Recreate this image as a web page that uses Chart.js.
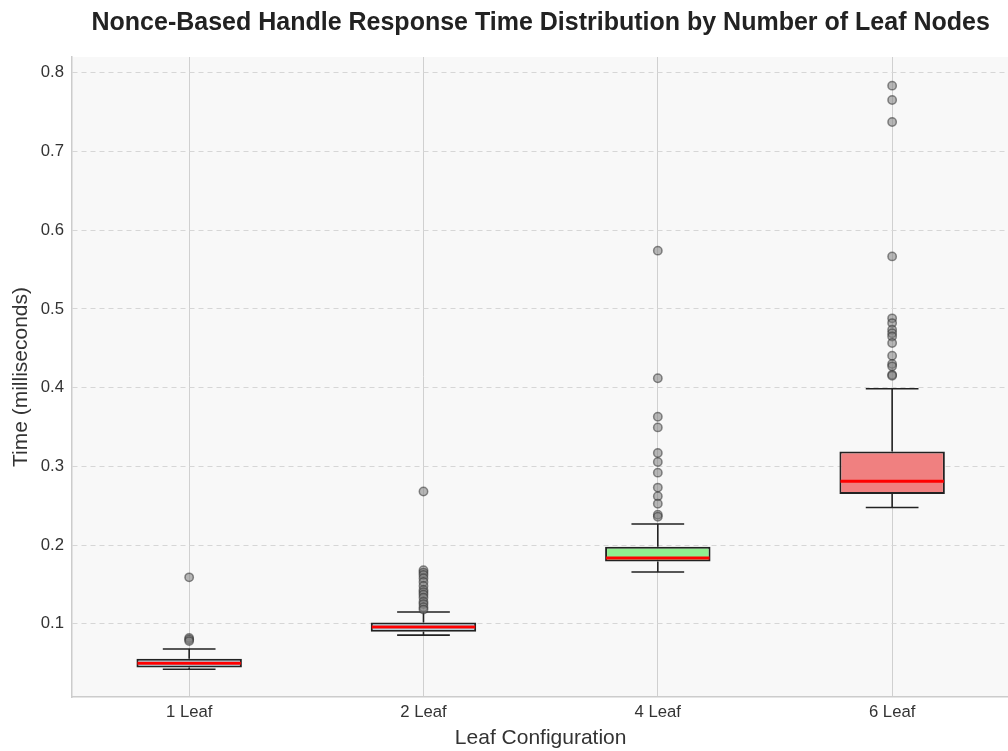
<!DOCTYPE html>
<html>
<head>
<meta charset="utf-8">
<script src="https://cdn.jsdelivr.net/npm/chart.js@4.4.1/dist/chart.umd.min.js"></script>
<style>
  html, body { margin: 0; padding: 0; background: #ffffff; overflow: hidden; }
  #wrap { width: 1015px; height: 751px; position: relative; }
</style>
</head>
<body>
<div id="wrap"><canvas id="chart"></canvas></div>
<script>
// Data
const categories = ['1 Leaf', '2 Leaf', '4 Leaf', '6 Leaf'];
const q1Values = [0.0445, 0.090, 0.179, 0.265];
const q3Values = [0.0555, 0.1017, 0.198, 0.319];
const medianValues = [0.050, 0.0958, 0.1835, 0.281];
const whiskerLow = [0.0423, 0.0856, 0.1657, 0.2478];
const whiskerHigh = [0.0679, 0.115, 0.2267, 0.3986];
const outliers1 = [0.159, 0.082, 0.080, 0.078];
const outliers2 = [0.268, 0.168, 0.165, 0.162, 0.158, 0.153, 0.148, 0.143, 0.140, 0.137, 0.133, 0.128, 0.125, 0.121, 0.118];
const outliers4 = [0.574, 0.412, 0.363, 0.3495, 0.317, 0.3055, 0.292, 0.273, 0.262, 0.2525, 0.2385, 0.236];
const outliers6 = [0.7836, 0.7654, 0.7375, 0.5667, 0.488, 0.482, 0.4736, 0.469, 0.465, 0.4567, 0.4405, 0.430, 0.427, 0.4164, 0.415];
const yTicks = [0.1, 0.2, 0.3, 0.4, 0.5, 0.6, 0.7, 0.8];

const TITLE = 'Nonce-Based Handle Response Time Distribution by Number of Leaf Nodes';
const boxColors = ['#add8e6', '#add8e6', '#90ee90', '#f08080'];
const FONT = "'Liberation Sans', Arial, sans-serif";

// outlier points built from the lists above
const outlierPoints = [];
[outliers1, outliers2, outliers4, outliers6].forEach((list, i) => {
    list.forEach(v => outlierPoints.push({ x: categories[i], y: v }));
});

// Plot background, title over the plot area, whiskers and medians
const boxPlugin = {
    id: 'boxWhiskers',
    beforeDraw(chart) {
        const a = chart.chartArea;
        const ctx = chart.ctx;
        ctx.save();
        ctx.fillStyle = '#f8f8f8';
        ctx.fillRect(a.left, a.top, a.right - a.left, a.bottom - a.top);
        ctx.restore();
    },
    beforeDatasetsDraw(chart) {
        const ctx = chart.ctx;
        const x = chart.scales.x, y = chart.scales.y;
        const bars = chart.getDatasetMeta(0).data;
        ctx.save();
        ctx.strokeStyle = '#222';
        ctx.lineWidth = 1.6;
        categories.forEach((c, i) => {
            const cx = x.getPixelForValue(i);
            const half = bars[i].width / 4;
            ctx.beginPath();
            ctx.moveTo(cx, y.getPixelForValue(q3Values[i]));
            ctx.lineTo(cx, y.getPixelForValue(whiskerHigh[i]));
            ctx.moveTo(cx, y.getPixelForValue(q1Values[i]));
            ctx.lineTo(cx, y.getPixelForValue(whiskerLow[i]));
            ctx.moveTo(cx - half, y.getPixelForValue(whiskerHigh[i]));
            ctx.lineTo(cx + half, y.getPixelForValue(whiskerHigh[i]));
            ctx.moveTo(cx - half, y.getPixelForValue(whiskerLow[i]));
            ctx.lineTo(cx + half, y.getPixelForValue(whiskerLow[i]));
            ctx.stroke();
        });
        ctx.restore();
    },
    afterDatasetsDraw(chart) {
        const ctx = chart.ctx;
        const x = chart.scales.x, y = chart.scales.y;
        const bars = chart.getDatasetMeta(0).data;
        ctx.save();
        ctx.strokeStyle = '#ff0000';
        ctx.lineWidth = 3;
        categories.forEach((c, i) => {
            const cx = x.getPixelForValue(i);
            const half = bars[i].width / 2 - 1;
            const my = y.getPixelForValue(medianValues[i]);
            ctx.beginPath();
            ctx.moveTo(cx - half, my);
            ctx.lineTo(cx + half, my);
            ctx.stroke();
        });
        ctx.restore();
    },
    afterDraw(chart) {
        const a = chart.chartArea;
        const ctx = chart.ctx;
        ctx.save();
        ctx.fillStyle = '#222';
        ctx.font = 'bold 25px ' + FONT;
        ctx.textAlign = 'center';
        ctx.textBaseline = 'middle';
        ctx.fillText(TITLE, (a.left + a.right) / 2, 23);
        ctx.restore();
    }
};

new Chart(document.getElementById('chart'), {
    type: 'bar',
    data: {
        labels: categories,
        datasets: [{
            label: 'IQR',
            data: categories.map((c, i) => [q1Values[i], q3Values[i]]),
            backgroundColor: boxColors,
            borderColor: '#222',
            borderWidth: 2,
            borderSkipped: false,
            barPercentage: 0.45,
            categoryPercentage: 1.0
        }, {
            type: 'scatter',
            label: 'Outliers',
            data: outlierPoints,
            xAxisID: 'x',
            pointRadius: 4.2,
            pointBackgroundColor: 'rgba(128,128,128,0.55)',
            pointBorderColor: 'rgba(50,50,50,0.55)',
            pointBorderWidth: 1.5
        }]
    },
    options: {
        responsive: true,
        maintainAspectRatio: false,
        animation: false,
        layout: { padding: { left: 0, right: 0, top: 57, bottom: 0 } },
        plugins: {
            legend: { display: false },
            tooltip: { enabled: false },
            title: { display: false }
        },
        scales: {
            x: {
                type: 'category',
                offset: true,
                grid: { display: true, offset: false, color: '#d0d0d0', lineWidth: 1, drawTicks: false },
                border: { display: true, color: '#cccccc', width: 1.5 },
                ticks: { color: '#333', font: { family: FONT, size: 16.7 }, padding: 5 },
                title: {
                    display: true,
                    text: 'Leaf Configuration',
                    color: '#333',
                    font: { family: FONT, size: 21 },
                    padding: { top: 0, bottom: 0 }
                },
                afterFit(scale) { scale.height = 54; }
            },
            y: {
                min: 0.007,
                max: 0.82,
                grid: { color: '#d6d6d6', lineWidth: 1, drawTicks: false, borderDash: [5, 4] },
                border: { display: true, color: '#cccccc', width: 1.5, dash: [5, 4] },
                afterBuildTicks(scale) { scale.ticks = yTicks.map(v => ({ value: v })); },
                ticks: {
                    color: '#333',
                    font: { family: FONT, size: 16.7 },
                    padding: 8,
                    callback: v => Number(v).toFixed(1)
                },
                title: {
                    display: true,
                    text: 'Time (milliseconds)',
                    color: '#333',
                    font: { family: FONT, size: 21 },
                    padding: { top: 9, bottom: 0 }
                },
                afterFit(scale) { scale.width = 72; }
            }
        }
    },
    plugins: [boxPlugin]
});
</script>
</body>
</html>
